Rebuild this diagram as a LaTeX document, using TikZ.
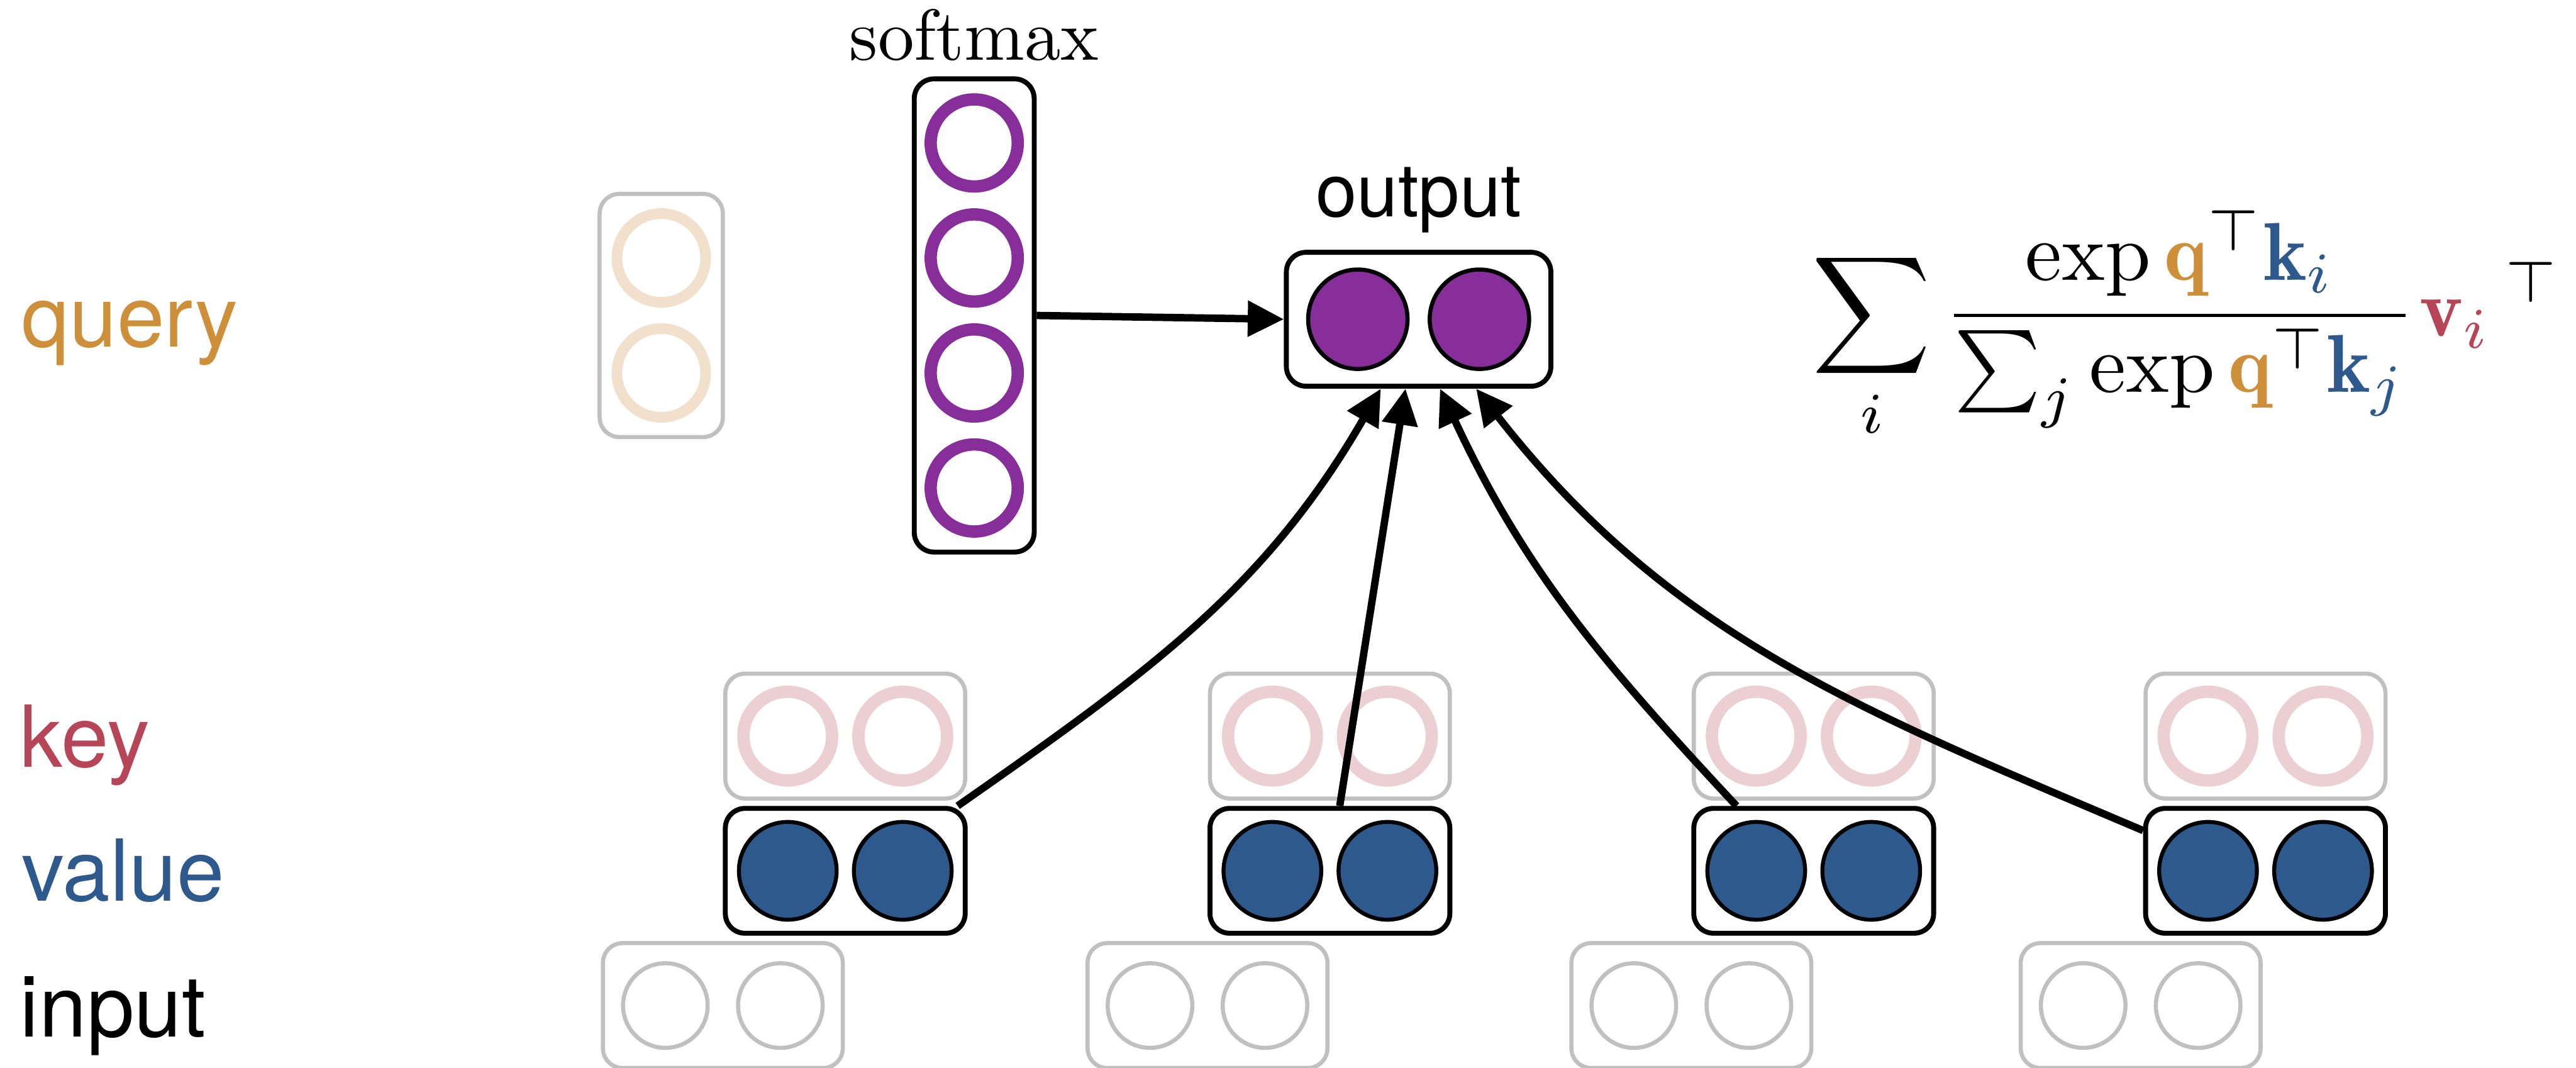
\RequirePackage{fix-cm}
\documentclass[tikz,border=0pt]{standalone}
\usepackage{exscale}
\usepackage{fontspec}
\newfontfamily\labelfont{TeX Gyre Heros}
\usetikzlibrary{arrows.meta,calc}

\definecolor{qtext}{RGB}{205,143,57}
\definecolor{qring}{RGB}{241,224,203}
\definecolor{ktext}{RGB}{183,69,88}
\definecolor{kring}{RGB}{235,207,211}
\definecolor{vblue}{RGB}{46,89,140}
\definecolor{spurple}{RGB}{135,46,155}
\definecolor{boxgray}{RGB}{192,192,192}

\tikzset{
  gbox/.style={draw=boxgray, line width=2.5pt, rounded corners=12pt, inner sep=0pt},
  kbox/.style={draw=black, line width=3pt, rounded corners=12pt, inner sep=0pt},
  hbox/.style={minimum width=146pt, minimum height=76pt},
  ring/.style={circle, inner sep=0pt, line width=7pt, minimum size=54pt},
  qcirc/.style={ring, draw=qring, line width=6.5pt},
  scirc/.style={ring, draw=spurple, line width=7.5pt, minimum size=53pt},
  kcirc/.style={ring, draw=kring, line width=7.5pt},
  vcirc/.style={circle, inner sep=0pt, draw=black, line width=2.4pt, fill=vblue, minimum size=59.5pt},
  ocirc/.style={circle, inner sep=0pt, draw=black, line width=2.5pt, fill=spurple, minimum size=60.5pt},
  icirc/.style={circle, inner sep=0pt, draw=boxgray, line width=2.5pt, minimum size=51.5pt},
  rowlabel/.style={anchor=base west, inner sep=0pt, font=\labelfont\fontsize{52}{62}\selectfont},
  arr/.style={line width=4.5pt, -{Triangle[length=22pt,width=21pt]}},
}

\begin{document}
\begin{tikzpicture}[x=1pt, y=1pt]
\useasboundingbox (0,0) rectangle (1568,-650);

% row labels
\node[rowlabel, text=qtext] (lq) at (13,-211) {query};
\node[rowlabel, text=ktext] (lk) at (12,-467) {key};
\node[rowlabel, text=vblue] (lv) at (13,-548.5) {value};
\node[rowlabel, text=black] (li) at (12,-631) {input};

% query vector
\node[gbox, minimum width=75pt, minimum height=148pt] (qbox) at (402.5,-192) {};
\node[qcirc] (q1) at (402.5,-157) {};
\node[qcirc] (q2) at (402.5,-227) {};

% softmax column
\node[kbox, minimum width=73pt, minimum height=288pt] (smax) at (593,-192) {};
\foreach \i/\y in {1/-87,2/-157,3/-227,4/-297}
  \node[scirc] (s\i) at (593,\y) {};
\node[anchor=base, inner sep=0pt, scale=4.4] (lsm) at (593,-36.5) {softmax};

% output vector
\node[kbox, minimum width=161pt, minimum height=81.5pt] (out) at (863.5,-194.3) {};
\node[ocirc] (o1) at (826.5,-194.3) {};
\node[ocirc] (o2) at (900.5,-194.3) {};
\node[anchor=base, inner sep=0pt, font=\labelfont\fontsize{45}{54}\selectfont] (lout) at (863.5,-132) {output};

% key, value and input vectors for each position
\foreach \n/\x/\xi in {1/514.5/440, 2/809.5/735, 3/1104/1029.5, 4/1379/1303} {
  \node[gbox, hbox] (k\n) at (\x,-448) {};
  \node[kcirc] (k\n a) at (\x-35,-448) {};
  \node[kcirc] (k\n b) at (\x+35,-448) {};
  \node[kbox, hbox] (v\n) at (\x,-530) {};
  \node[vcirc] (v\n a) at (\x-35,-530) {};
  \node[vcirc] (v\n b) at (\x+35,-530) {};
  \node[gbox, hbox] (in\n) at (\xi,-612) {};
  \node[icirc] (in\n a) at (\xi-35,-612) {};
  \node[icirc] (in\n b) at (\xi+35,-612) {};
}

% connectors
\draw[arr] (smax.east) -- (out.west);
\draw[arr] (v1.30) to[out=35,in=-120] ($(out.south)+(-23,0)$);
\draw[arr] ($(v2.north)+(6,0)$) -- ($(out.south)+(-8,0)$);
\draw[arr] ($(v3.north)+(-47,0)$) to[out=133,in=-65] ($(out.south)+(13,0)$);
\draw[arr] ($(v4.north west)+(0,-15)$) to[out=157,in=-52] ($(out.south)+(35,0)$);

% attention formula
\node[anchor=base west, inner sep=0pt, scale=5.0] (formula) at (1102,-204.5)
  {$\displaystyle \sum_i \frac{\exp {\color{qtext}\mathbf{q}}^{\top} {\color{vblue}\mathbf{k}_i}}
     {\sum_j \exp {\color{qtext}\mathbf{q}}^{\top} {\color{vblue}\mathbf{k}_j}}
     \mkern1mu{\color{ktext}\mathbf{v}_i}^{\mkern4mu\top}$};
\end{tikzpicture}
\end{document}
